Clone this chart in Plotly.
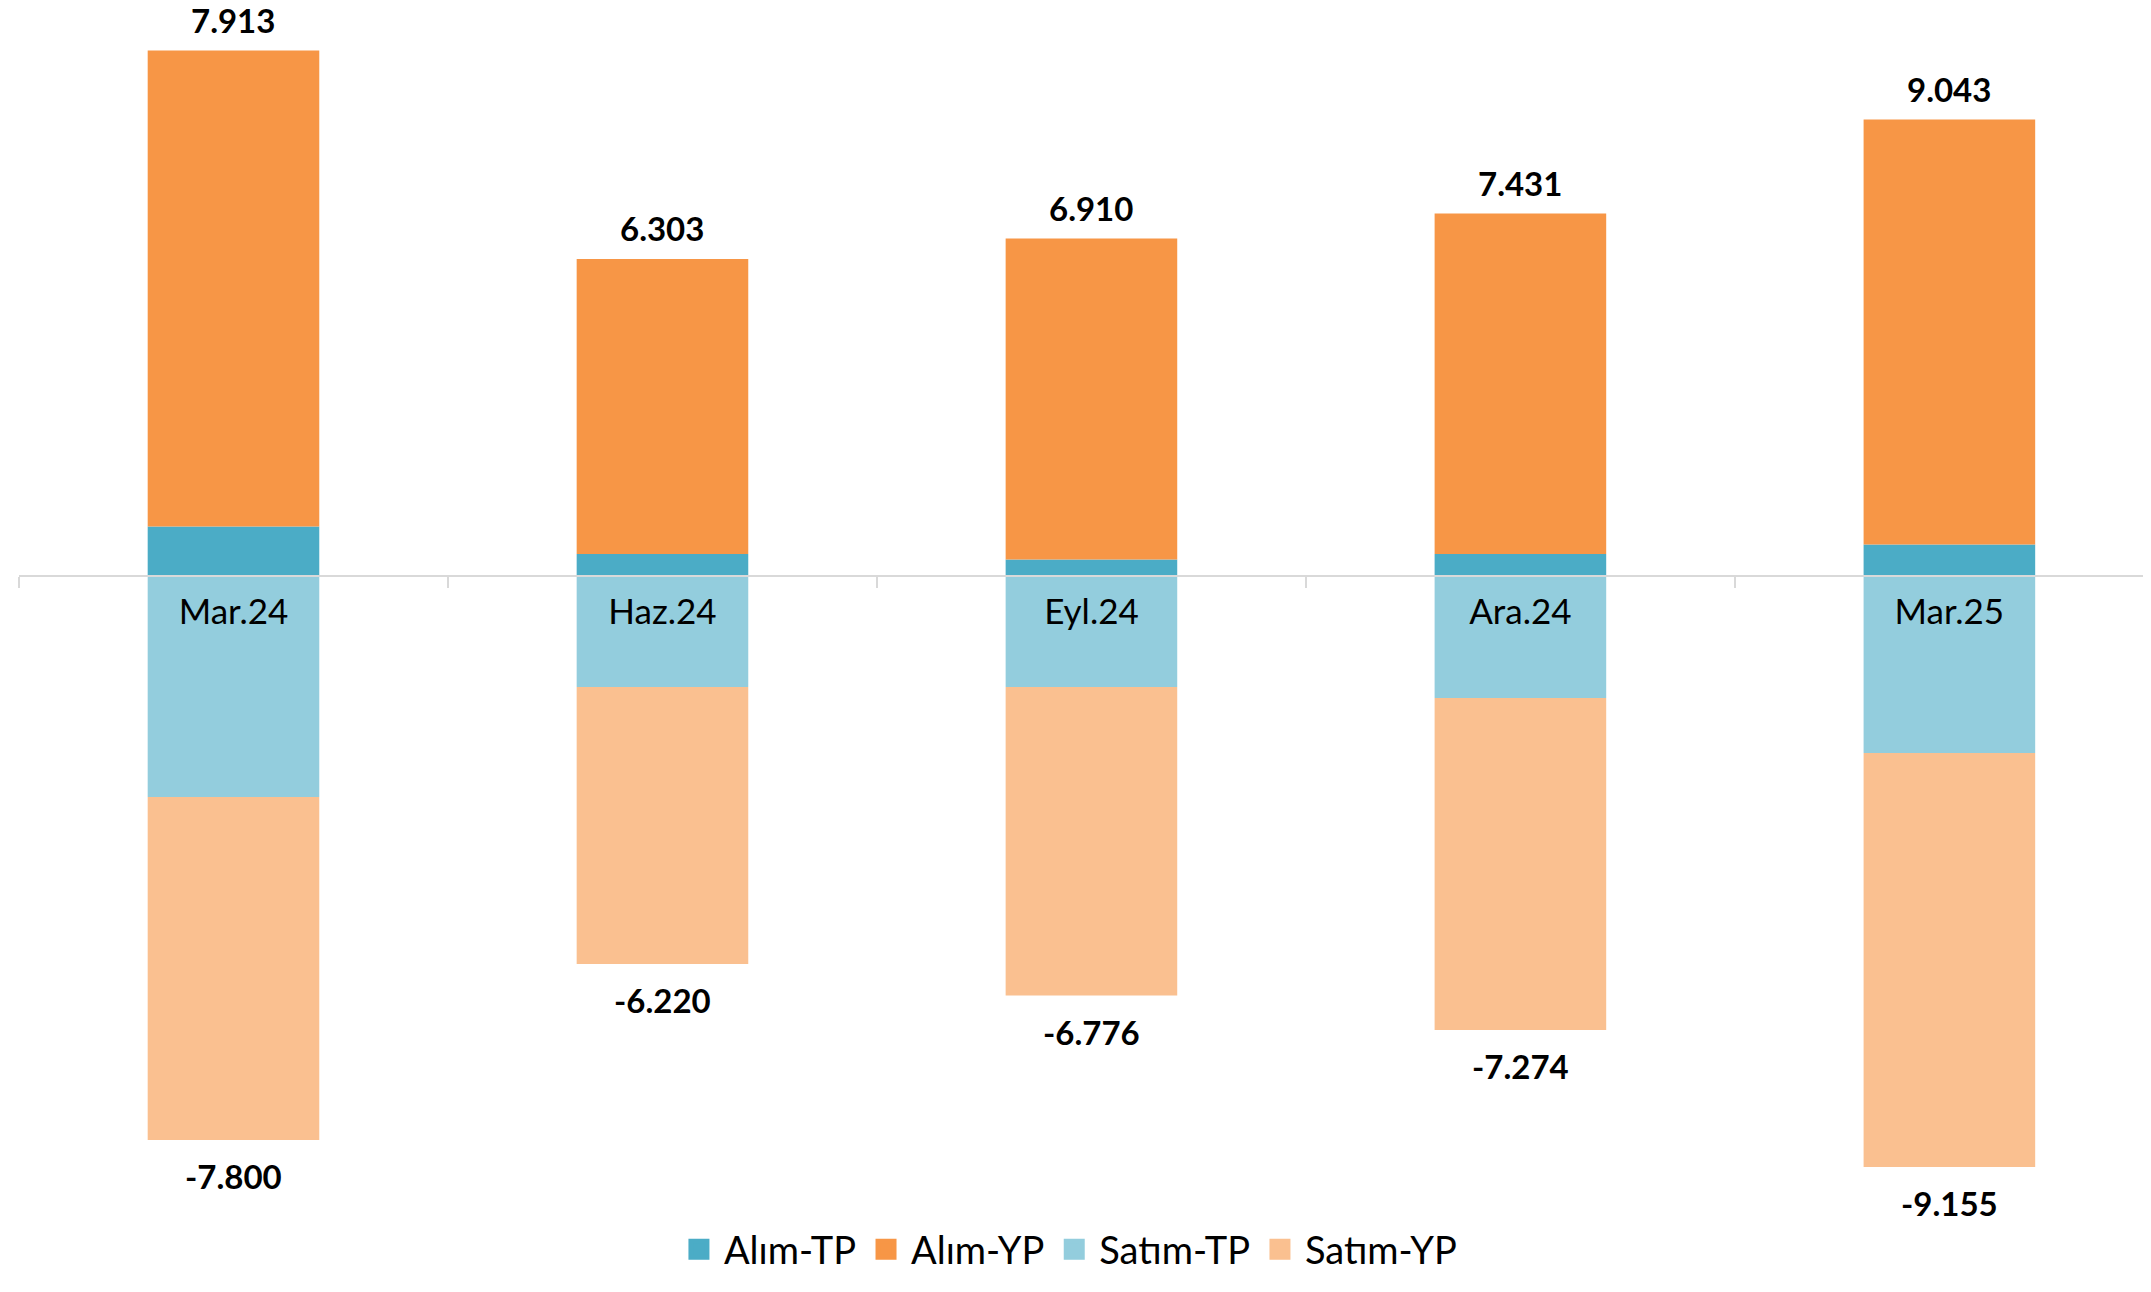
import plotly.graph_objects as go

categories = ["Mar.24", "Haz.24", "Eyl.24", "Ara.24", "Mar.25"]
alim_tp = [990, 440, 330, 440, 630]
alim_yp = [9520, 5900, 6420, 6810, 8500]
satim_tp = [-4420, -2220, -2220, -2440, -3540]
satim_yp = [-6860, -5540, -6170, -6640, -8280]
label_alim = [7913, 6303, 6910, 7431, 9043]
label_satim = [-7800, -6220, -6776, -7274, -9155]

series = [
    ("Alım-TP", alim_tp, "#4BACC6"),
    ("Alım-YP", alim_yp, "#F79646"),
    ("Satım-TP", satim_tp, "#93CDDD"),
    ("Satım-YP", satim_yp, "#FAC090"),
]

FONT = "Lato, Carlito, Calibri, sans-serif"

def fmt(v):
    return f"{v:,}".replace(",", ".")

fig = go.Figure()
for name, vals, color in series:
    fig.add_trace(go.Bar(
        x=categories, y=vals, name=name, legendgroup=name, showlegend=False,
        marker=dict(color=color, line=dict(width=0)),
    ))
for name, vals, color in series:
    fig.add_trace(go.Scatter(
        x=[None], y=[None], mode="markers", name=name, legendgroup=name,
        marker=dict(symbol="square", size=22, color=color,
                    line=dict(width=5, color=color)),
        showlegend=True, hoverinfo="skip",
    ))

pos_tot = [a + b for a, b in zip(alim_tp, alim_yp)]
neg_tot = [a + b for a, b in zip(satim_tp, satim_yp)]
for c, top, lab in zip(categories, pos_tot, label_alim):
    fig.add_annotation(x=c, y=top, text=f"<b>{fmt(lab)}</b>", showarrow=False,
                       yanchor="middle", yshift=31,
                       font=dict(family=FONT, size=33, color="#000000"))
for c, bot, lab in zip(categories, neg_tot, label_satim):
    fig.add_annotation(x=c, y=bot, text=f"<b>{fmt(lab)}</b>", showarrow=False,
                       yanchor="middle", yshift=-36,
                       font=dict(family=FONT, size=33, color="#000000"))

fig.update_layout(
    width=2143, height=1284,
    barmode="relative", bargap=0.6,
    paper_bgcolor="white", plot_bgcolor="white",
    margin=dict(l=11, r=0, t=12, b=112, autoexpand=False),
    font=dict(family=FONT, color="#000000"),
    showlegend=True,
    legend=dict(orientation="h", x=0.492, xanchor="center", y=-0.06, yanchor="middle",
                font=dict(family=FONT, size=38, color="#000000"),
                itemsizing="trace", itemwidth=40, traceorder="normal"),
    xaxis=dict(
        type="category", range=[-0.5, 4.47], automargin=False,
        anchor="free", position=(1172 - 568) / 1160,
        showline=True, linecolor="#D9D9D9", linewidth=2,
        ticks="outside", tickson="boundaries", ticklen=11, tickcolor="#D9D9D9", tickwidth=2,
        ticklabelstandoff=5,
        tickfont=dict(family=FONT, size=35, color="#000000"),
        showgrid=False, zeroline=False,
    ),
    yaxis=dict(
        range=[-12080, 11120], showticklabels=False, showgrid=False, automargin=False,
        zeroline=False, showline=False, ticks="",
    ),
)

fig.write_html("out.html")
